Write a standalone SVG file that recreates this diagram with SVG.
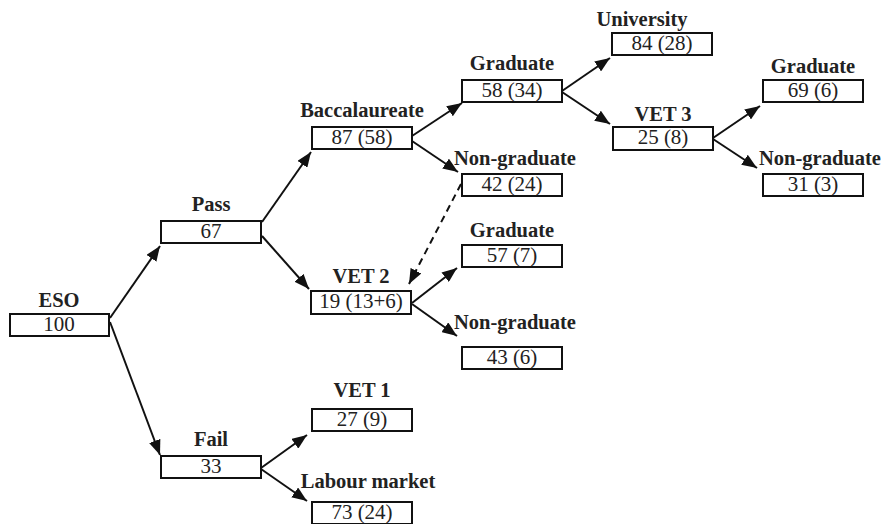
<svg xmlns="http://www.w3.org/2000/svg" width="883" height="524" viewBox="0 0 883 524">
<style>
.box{fill:#fff;stroke:#111;stroke-width:2}
.lab{font-family:"Liberation Serif","Times New Roman",serif;font-weight:bold;font-size:20.5px;fill:#222;text-anchor:middle}
.val{font-family:"Liberation Serif","Times New Roman",serif;font-size:21px;fill:#222;text-anchor:middle}
.con{stroke:#111;stroke-width:2;fill:none}
.dash{stroke-dasharray:7,5}
</style>
<defs>
<marker id="ah" markerUnits="userSpaceOnUse" markerWidth="15" markerHeight="12" refX="15" refY="6" orient="auto">
<path d="M0,0 L15,6 L0,12 z" fill="#111"/>
</marker>
</defs>
<rect width="883" height="524" fill="#fff"/>
<g id="connectors">
<line class="con" x1="110" y1="318" x2="160" y2="246" marker-end="url(#ah)"/>
<line class="con" x1="110" y1="322" x2="160" y2="455" marker-end="url(#ah)"/>
<line class="con" x1="262" y1="222" x2="311" y2="152" marker-end="url(#ah)"/>
<line class="con" x1="262" y1="236" x2="309" y2="289" marker-end="url(#ah)"/>
<line class="con" x1="412" y1="136" x2="462" y2="103" marker-end="url(#ah)"/>
<line class="con" x1="412" y1="141" x2="458" y2="172" marker-end="url(#ah)"/>
<line class="con" x1="562" y1="91" x2="610" y2="58" marker-end="url(#ah)"/>
<line class="con" x1="562" y1="92" x2="610" y2="124" marker-end="url(#ah)"/>
<line class="con" x1="713" y1="138" x2="760" y2="106" marker-end="url(#ah)"/>
<line class="con" x1="713" y1="139" x2="757" y2="168" marker-end="url(#ah)"/>
<line class="con" x1="412" y1="303" x2="457" y2="268" marker-end="url(#ah)"/>
<line class="con" x1="412" y1="304" x2="457" y2="336" marker-end="url(#ah)"/>
<line class="con" x1="261" y1="468" x2="307" y2="435" marker-end="url(#ah)"/>
<line class="con" x1="261" y1="469" x2="307" y2="501" marker-end="url(#ah)"/>
<line class="con dash" x1="461" y1="184" x2="409" y2="284" marker-end="url(#ah)"/>
</g>
<g id="eso"><text class="lab" x="59" y="307">ESO</text><rect class="box" x="10" y="314" width="99" height="22"/><text class="val" x="59" y="331">100</text></g>
<g id="pass"><text class="lab" x="211" y="211">Pass</text><rect class="box" x="161" y="221" width="100" height="22"/><text class="val" x="211" y="238">67</text></g>
<g id="fail"><text class="lab" x="211" y="446">Fail</text><rect class="box" x="161" y="456" width="100" height="22"/><text class="val" x="211" y="473">33</text></g>
<g id="bacc"><text class="lab" x="362" y="117">Baccalaureate</text><rect class="box" x="312" y="127" width="100" height="22"/><text class="val" x="362" y="144">87 (58)</text></g>
<g id="vet2"><text class="lab" x="361" y="283">VET 2</text><rect class="box" x="311" y="291" width="100" height="23"/><text class="val" x="361" y="308">19 (13+6)</text></g>
<g id="vet1"><text class="lab" x="362" y="397">VET 1</text><rect class="box" x="312" y="409" width="100" height="22"/><text class="val" x="362" y="426">27 (9)</text></g>
<g id="labour"><text class="lab" x="368" y="488">Labour market</text><rect class="box" x="312" y="502" width="100" height="22"/><text class="val" x="362" y="519">73 (24)</text></g>
<g id="grad58"><text class="lab" x="512" y="70">Graduate</text><rect class="box" x="462" y="80" width="100" height="22"/><text class="val" x="512" y="97">58 (34)</text></g>
<g id="nongrad42"><text class="lab" x="515" y="165">Non-graduate</text><rect class="box" x="462" y="174" width="100" height="22"/><text class="val" x="512" y="191">42 (24)</text></g>
<g id="grad57"><text class="lab" x="512" y="237">Graduate</text><rect class="box" x="462" y="245" width="100" height="22"/><text class="val" x="512" y="262">57 (7)</text></g>
<g id="nongrad43"><text class="lab" x="515" y="329">Non-graduate</text><rect class="box" x="462" y="347" width="100" height="22"/><text class="val" x="512" y="364">43 (6)</text></g>
<g id="university"><text class="lab" x="642" y="26">University</text><rect class="box" x="612" y="33" width="100" height="22"/><text class="val" x="662" y="50">84 (28)</text></g>
<g id="vet3"><text class="lab" x="663" y="121">VET 3</text><rect class="box" x="613" y="127" width="100" height="23"/><text class="val" x="663" y="144">25 (8)</text></g>
<g id="grad69"><text class="lab" x="813" y="73">Graduate</text><rect class="box" x="763" y="80" width="100" height="22"/><text class="val" x="813" y="97">69 (6)</text></g>
<g id="nongrad31"><text class="lab" x="820" y="165">Non-graduate</text><rect class="box" x="763" y="174" width="100" height="22"/><text class="val" x="813" y="191">31 (3)</text></g>
</svg>
